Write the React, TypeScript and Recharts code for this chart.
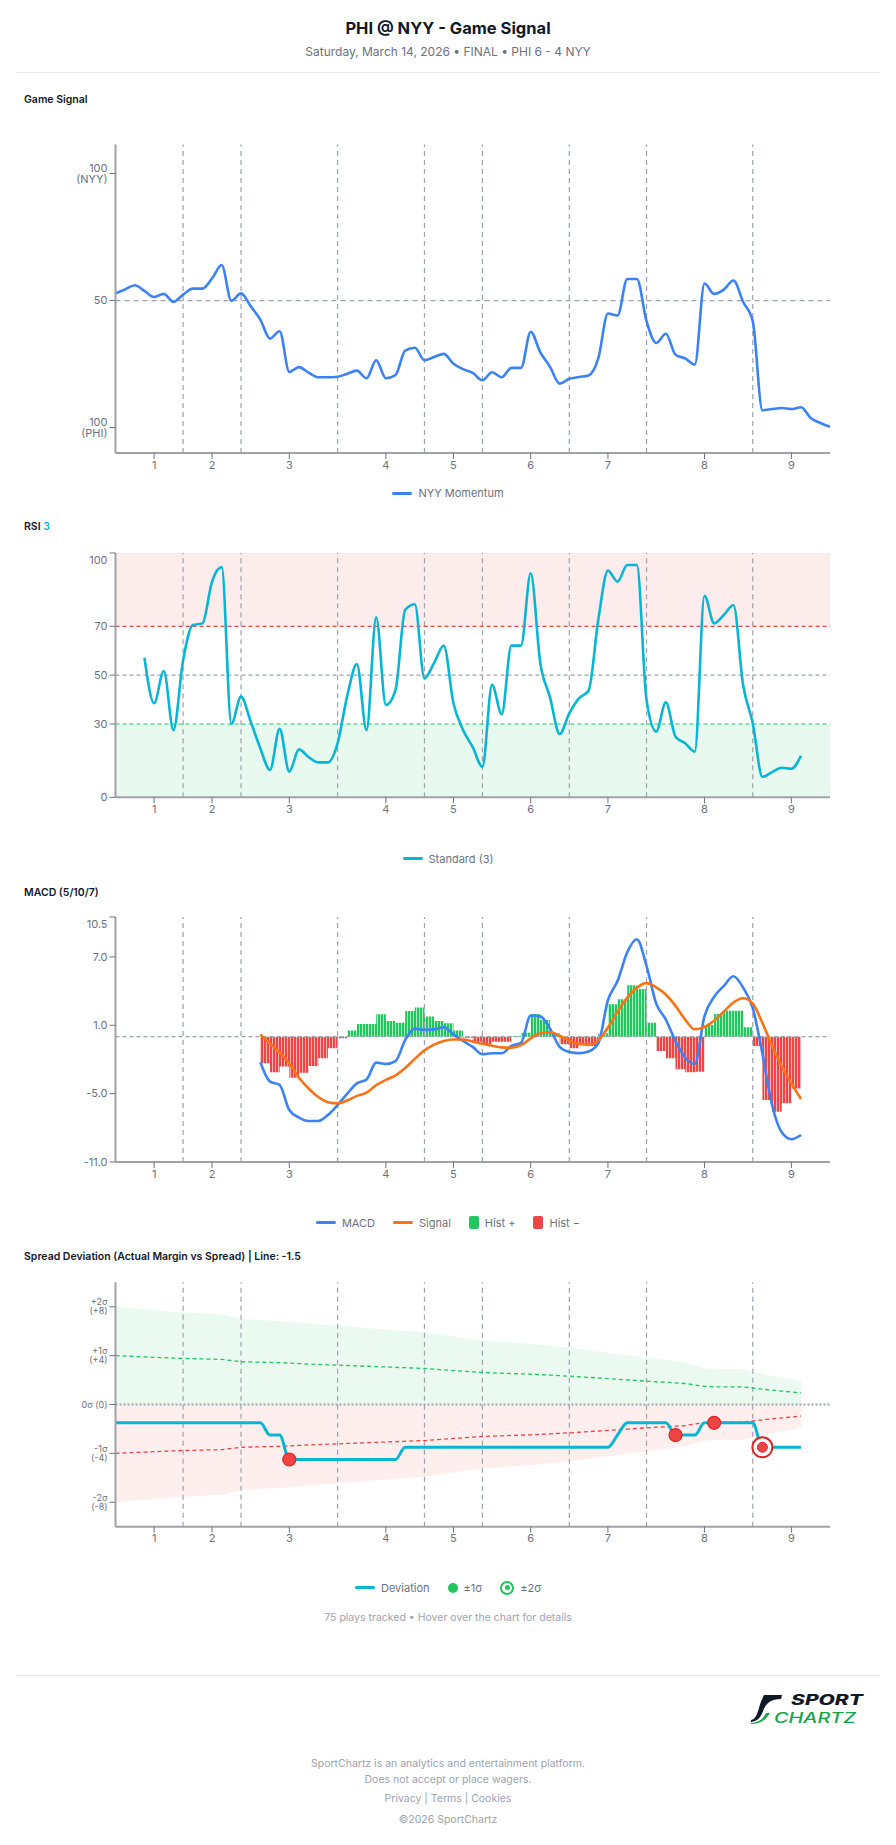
import React from 'react'
import {
  ComposedChart,
  Line,
  Area,
  XAxis,
  YAxis,
  ReferenceLine,
  ReferenceArea,
} from 'recharts'

// x axis = play number (75 plays tracked, 0..74)
const INNING_LABELS = ['1', '2', '3', '4', '5', '6', '7', '8', '9']
const INNING_TICKS = [4, 10, 18, 28, 35, 43, 51, 61, 70]
const INNING_BREAKS = [7, 13, 23, 32, 38, 47, 55, 66]

// Game signal: 0 = PHI 100, 50 = even, 100 = NYY 100
const MOMENTUM = [
  52.8, 54.4, 56.0, 53.8, 51.4, 52.6, 49.5, 52.3, 54.7, 54.7,
  58.7, 64.0, 49.9, 52.8, 47.8, 42.5, 35.0, 37.9, 21.9, 23.8,
  21.6, 19.8, 19.8, 20.0, 21.2, 22.4, 19.4, 26.5, 19.4, 20.7,
  30.3, 31.4, 26.5, 27.8, 29.0, 25.1, 23.0, 21.5, 18.6, 21.8,
  19.8, 23.5, 23.5, 37.7, 29.6, 23.9, 17.3, 19.2, 19.9, 20.5,
  27.2, 44.9, 44.1, 58.5, 58.5, 41.9, 33.3, 36.9, 28.7, 27.2,
  24.8, 56.7, 52.6, 54.3, 57.9, 49.5, 41.9, 6.8, 7.3, 7.7,
  7.3, 8.0, 3.8, 1.8, 0.3,
]

// RSI(3), plays 3..71
const RSI_FROM = 3
const RSI = [
  57.1, 38.5, 51.7, 27.5, 56.0, 70.5, 71.2, 88.3, 94.2, 30.0,
  41.2, 31.0, 20.0, 11.2, 28.0, 10.5, 19.6, 16.5, 14.3, 14.3,
  22.1, 41.5, 54.5, 27.5, 73.7, 37.8, 43.9, 76.7, 79.0, 48.7,
  55.0, 62.1, 38.5, 27.5, 20.5, 12.5, 46.0, 34.0, 62.1, 62.1,
  91.7, 54.8, 41.0, 25.9, 34.4, 40.5, 43.7, 72.6, 92.8, 88.3,
  95.1, 95.1, 39.8, 26.9, 38.9, 24.8, 22.1, 18.7, 82.5, 71.2,
  74.6, 78.7, 46.0, 30.3, 8.4, 10.3, 12.1, 11.7, 17.0,
]

// MACD (5/10/7), plays 15..71
const MACD_FROM = 15
const MACD = [
  -2.25, -3.95, -4.24, -6.44, -7.1, -7.4, -7.4, -6.88, -6.0, -5.0,
  -4.1, -3.75, -2.28, -2.4, -2.15, -0.3, 0.7, 0.6, 0.64, 0.82,
  0.2, -0.38, -0.9, -1.55, -1.46, -1.46, -0.82, -0.55, 1.85, 1.78,
  0.7, -0.9, -1.35, -1.45, -1.3, -0.59, 3.2, 4.9, 7.4, 8.55,
  6.2, 2.9, 1.5, -0.4, -1.85, -2.4, 1.8, 3.5, 4.45, 5.3,
  4.3, 2.5, -1.5, -6.0, -8.4, -9.0, -8.63,
]
const MACD_SIGNAL = [
  0.2, -0.6, -1.4, -2.35, -3.6, -4.55, -5.3, -5.75, -5.85, -5.6,
  -5.2, -4.92, -4.25, -3.8, -3.4, -2.75, -1.95, -1.2, -0.7, -0.38,
  -0.25, -0.25, -0.42, -0.62, -0.8, -0.94, -0.97, -0.75, -0.15, 0.29,
  0.38, 0.08, -0.35, -0.65, -0.72, -0.35, 0.8, 2.2, 3.4, 4.3,
  4.7, 4.33, 3.7, 2.7, 1.5, 0.65, 0.85, 1.4, 2.2, 3.0,
  3.37, 2.9, 1.2, -0.8, -2.6, -4.1, -5.47,
]
const MACD_HIST = [
  -2.34, -3.13, -2.63, -3.6, -3.16, -2.58, -1.9, -1.02, -0.15, 0.53,
  1.11, 1.11, 1.96, 1.38, 1.23, 2.25, 2.55, 1.76, 1.38, 1.17,
  0.53, -0.09, -0.44, -0.67, -0.44, -0.44, 0.06, 0.35, 1.99, 1.46,
  0.3, -0.67, -1.02, -0.73, -0.82, 0.29, 2.84, 3.28, 4.5, 4.18,
  1.23, -1.26, -1.9, -2.87, -3.13, -3.07, 1.02, 1.99, 2.28, 2.28,
  0.82, -0.82, -5.56, -6.58, -5.85, -4.54, -2.98,
]

// Spread deviation (points vs the -1.5 line), plays 0..71
const DEVIATION = [
  -1.5, -1.5, -1.5, -1.5, -1.5, -1.5, -1.5, -1.5, -1.5, -1.5,
  -1.5, -1.5, -1.5, -1.5, -1.5, -1.5, -2.5, -2.5, -4.5, -4.5,
  -4.5, -4.5, -4.5, -4.5, -4.5, -4.5, -4.5, -4.5, -4.5, -4.5,
  -3.5, -3.5, -3.5, -3.5, -3.5, -3.5, -3.5, -3.5, -3.5, -3.5,
  -3.5, -3.5, -3.5, -3.5, -3.5, -3.5, -3.5, -3.5, -3.5, -3.5,
  -3.5, -3.5, -2.5, -1.5, -1.5, -1.5, -1.5, -1.5, -2.5, -2.5,
  -2.5, -1.5, -1.5, -1.5, -1.5, -1.5, -1.5, -3.5, -3.5, -3.5,
  -3.5, -3.5,
]
// one standard deviation (points) remaining at each play
const SIGMA = [
  4.0, 3.96, 3.93, 3.9, 3.86, 3.83, 3.8, 3.77, 3.75, 3.73,
  3.71, 3.69, 3.6, 3.5, 3.48, 3.46, 3.44, 3.42, 3.39, 3.35,
  3.31, 3.28, 3.25, 3.22, 3.19, 3.16, 3.13, 3.1, 3.07, 3.04,
  3.01, 2.98, 2.95, 2.9, 2.84, 2.78, 2.72, 2.67, 2.62, 2.59,
  2.56, 2.53, 2.51, 2.48, 2.44, 2.4, 2.36, 2.32, 2.27, 2.22,
  2.17, 2.12, 2.07, 2.02, 1.96, 1.91, 1.86, 1.82, 1.77, 1.72,
  1.6, 1.48, 1.45, 1.45, 1.45, 1.44, 1.35, 1.25, 1.17, 1.1,
  1.02, 0.95,
]
const ALERT_PLAYS = [18, 58, 62, 67]
const ALERT_TIERS = [1, 1, 1, 2]

const SPREAD_TICKS = [8, 4, 0, -4, -8]
const SPREAD_TICK_LABELS = [['+2σ', '(+8)'], ['+1σ', '(+4)'], ['0σ (0)'], ['-1σ', '(-4)'], ['-2σ', '(-8)']]
const SIGNAL_TICKS = [100, 50, 0]
const SIGNAL_TICK_LABELS = [['100', '(NYY)'], ['50'], ['100', '(PHI)']]
const RSI_TICKS = [0, 30, 50, 70, 100]
const MACD_TICKS = [-11, -5, 1, 7, 10.5]

const rows = MOMENTUM.map((m, i) => {
  const k = i - MACD_FROM
  const h = MACD_HIST[k]
  const s = SIGMA[i]
  return {
    play: i,
    momentum: m,
    rsi: RSI[i - RSI_FROM] ?? null,
    macd: MACD[k] ?? null,
    signal: MACD_SIGNAL[k] ?? null,
    histPos: h == null ? null : Math.max(h, 0),
    histNeg: h == null ? null : Math.min(h, 0),
    dev: DEVIATION[i] ?? null,
    up1: s == null ? null : s,
    lo1: s == null ? null : -s,
    up2: s == null ? null : 2 * s,
    lo2: s == null ? null : -2 * s,
  }
})

const W = 896
const PLOT_LEFT = 115.5
const PLOT_RIGHT = 830
const AXIS_W = 60
const GRID = '#9ca3af'
const TICK = '#6b7280'

const chartMargin = (top: number) => ({ top, right: W - PLOT_RIGHT, bottom: 0, left: PLOT_LEFT - AXIS_W })

const xAxisProps = {
  dataKey: 'play',
  type: 'number' as const,
  domain: [0, 74],
  ticks: INNING_TICKS,
  interval: 0 as const,
  tickFormatter: (v: number) => INNING_LABELS[INNING_TICKS.indexOf(v)] ?? '',
  height: 30,
  axisLine: { stroke: '#a1a1aa', strokeWidth: 2 },
  tickLine: { stroke: TICK },
  tick: { fontSize: 11, fill: TICK },
}

const yAxisBase = {
  width: AXIS_W,
  interval: 0 as const,
  axisLine: { stroke: '#a1a1aa', strokeWidth: 2 },
  tickLine: { stroke: TICK },
}

const inningLines = INNING_BREAKS.map((b) => (
  <ReferenceLine key={`inn-${b}`} x={b} stroke={GRID} strokeDasharray="5 4" strokeWidth={1.2} />
))

// two-line y tick labels, e.g. "100" over "(NYY)"
function stackTick(values: number[], labels: string[][], fontSize: number, lineGap: number) {
  return (p: any) => {
    const lines = labels[values.indexOf(p.payload.value)] ?? [String(p.payload.value)]
    const start = -((lines.length - 1) * lineGap) / 2
    return (
      <text key={`t-${p.payload.value}`} x={p.x} y={p.y} textAnchor="end" fill={TICK} fontSize={fontSize}>
        {lines.map((l, i) => (
          <tspan key={i} x={p.x} y={p.y + start + i * lineGap} dy="0.35em">
            {l}
          </tspan>
        ))}
      </text>
    )
  }
}

// the label of the top tick sits a little below the plot edge
function edgeTick(top: number, fmt: (v: number) => string) {
  return (p: any) => (
    <text
      key={`t-${p.payload.value}`}
      x={p.x}
      y={p.y + (p.payload.value === top ? 7.5 : 0)}
      dy="0.35em"
      textAnchor="end"
      fill={TICK}
      fontSize={11}
    >
      {fmt(p.payload.value)}
    </text>
  )
}

const renderAlert = (p: any) => {
  const idx = ALERT_PLAYS.indexOf(p.payload?.play)
  if (idx < 0 || p.cx == null) return <g key={`a-${p.index}`} />
  if (ALERT_TIERS[idx] === 2) {
    return (
      <g key={`a-${p.index}`}>
        <circle cx={p.cx} cy={p.cy} r={10} fill="#fff" stroke="#dc2626" strokeWidth={2} />
        <circle cx={p.cx} cy={p.cy} r={5} fill="#ef4444" stroke="#dc2626" strokeWidth={1} />
      </g>
    )
  }
  return <circle key={`a-${p.index}`} cx={p.cx} cy={p.cy} r={6.5} fill="#ef4444" stroke="#dc2626" strokeWidth={1.2} />
}

type LegendItem = { label: string; kind: 'line' | 'square' | 'dot' | 'ring'; color: string }

function LegendRow({ top, items }: { top: number; items: LegendItem[] }) {
  return (
    <div
      style={{
        position: 'absolute',
        top: top - 8,
        left: 0,
        width: W,
        height: 16,
        display: 'flex',
        justifyContent: 'center',
        alignItems: 'center',
        gap: 18,
        fontSize: 11,
        color: TICK,
      }}
    >
      {items.map((it) => (
        <div key={it.label} style={{ display: 'flex', alignItems: 'center', gap: 6 }}>
          {it.kind === 'line' && <span style={{ width: 20, height: 3, borderRadius: 2, background: it.color }} />}
          {it.kind === 'square' && <span style={{ width: 10, height: 13, borderRadius: 2, background: it.color }} />}
          {it.kind === 'dot' && <span style={{ width: 10, height: 10, borderRadius: 5, background: it.color }} />}
          {it.kind === 'ring' && (
            <span
              style={{
                width: 10,
                height: 10,
                borderRadius: 7,
                border: `2px solid ${it.color}`,
                display: 'flex',
                alignItems: 'center',
                justifyContent: 'center',
              }}
            >
              <span style={{ width: 5, height: 5, borderRadius: 3, background: it.color }} />
            </span>
          )}
          <span>{it.label}</span>
        </div>
      ))}
    </div>
  )
}

function SectionLabel({ top, children }: { top: number; children: React.ReactNode }) {
  return (
    <div style={{ position: 'absolute', top: top - 8, left: 24, fontSize: 10.5, fontWeight: 600, color: '#111827', lineHeight: '16px' }}>
      {children}
    </div>
  )
}

const abs = (top: number): React.CSSProperties => ({ position: 'absolute', top, left: 0 })

const footLine = (top: number): React.CSSProperties => ({
  position: 'absolute',
  top,
  left: 0,
  width: W,
  textAlign: 'center',
  fontSize: 10.5,
  color: '#9ca3af',
  lineHeight: '16px',
})

export default function App() {
  return (
    <div style={{ position: 'relative', width: W, height: 1845, fontFamily: 'Inter, "Noto Sans", sans-serif', background: '#fff' }}>
      <style>{'body{margin:0}'}</style>

      <div style={{ position: 'absolute', top: 16, left: 0, width: W, textAlign: 'center', fontSize: 16.5, fontWeight: 700, color: '#111827', lineHeight: '24px' }}>
        PHI @ NYY - Game Signal
      </div>
      <div style={{ position: 'absolute', top: 43, left: 0, width: W, textAlign: 'center', fontSize: 12, color: TICK, lineHeight: '18px' }}>
        Saturday, March 14, 2026 • FINAL • PHI 6 - 4 NYY
      </div>
      <div style={{ position: 'absolute', top: 72, left: 16, width: 864, height: 1, background: '#e5e7eb' }} />

      {/* Game signal */}
      <SectionLabel top={100}>Game Signal</SectionLabel>
      <div style={abs(130)}>
        <ComposedChart width={W} height={353} data={rows} margin={chartMargin(14.5)}>
          <XAxis {...xAxisProps} />
          <YAxis
            {...yAxisBase}
            domain={[-10, 111.4]}
            ticks={SIGNAL_TICKS}
            tick={stackTick(SIGNAL_TICKS, SIGNAL_TICK_LABELS, 11, 11.5)}
          />
          {inningLines}
          <ReferenceLine y={50} stroke={GRID} strokeDasharray="5 4" strokeWidth={1.2} />
          <Line type="monotone" dataKey="momentum" stroke="#3b82f6" strokeWidth={2.6} dot={false} isAnimationActive={false} />
        </ComposedChart>
      </div>
      <LegendRow top={493} items={[{ label: 'NYY Momentum', kind: 'line', color: '#3b82f6' }]} />

      {/* RSI */}
      <SectionLabel top={527}>
        RSI <span style={{ color: '#06b6d4' }}>3</span>
      </SectionLabel>
      <div style={abs(540)}>
        <ComposedChart width={W} height={287.3} data={rows} margin={chartMargin(13)}>
          <XAxis {...xAxisProps} />
          <YAxis {...yAxisBase} domain={[0, 100]} ticks={RSI_TICKS} tick={edgeTick(100, (v) => String(v))} />
          <ReferenceArea y1={70} y2={100} fill="#ef4444" fillOpacity={0.1} stroke="none" />
          <ReferenceArea y1={0} y2={30} fill="#22c55e" fillOpacity={0.1} stroke="none" />
          {inningLines}
          <ReferenceLine y={70} stroke="#ef4444" strokeDasharray="4 3" strokeWidth={1.2} />
          <ReferenceLine y={50} stroke={GRID} strokeDasharray="4 3" strokeWidth={1.2} />
          <ReferenceLine y={30} stroke="#22c55e" strokeDasharray="4 3" strokeWidth={1.2} />
          <Line type="monotone" dataKey="rsi" stroke="#06b6d4" strokeWidth={2.6} dot={false} isAnimationActive={false} />
        </ComposedChart>
      </div>
      <LegendRow top={858.7} items={[{ label: 'Standard (3)', kind: 'line', color: '#06b6d4' }]} />

      {/* MACD */}
      <SectionLabel top={892.7}>MACD (5/10/7)</SectionLabel>
      <div style={abs(905)}>
        <ComposedChart width={W} height={287} data={rows} margin={chartMargin(12)}>
          <defs>
            <pattern id="histGreen" width="3" height="6" patternUnits="userSpaceOnUse">
              <rect width="3" height="6" fill="#a7f3c0" />
              <rect width="2" height="6" fill="#22c55e" />
            </pattern>
            <pattern id="histRed" width="3" height="6" patternUnits="userSpaceOnUse">
              <rect width="3" height="6" fill="#fcb4b4" />
              <rect width="2" height="6" fill="#ef4444" />
            </pattern>
          </defs>
          <XAxis {...xAxisProps} />
          <YAxis {...yAxisBase} domain={[-11, 10.5]} ticks={MACD_TICKS} tick={edgeTick(10.5, (v) => v.toFixed(1))} />
          {inningLines}
          <ReferenceLine y={0} stroke={GRID} strokeDasharray="4 3" strokeWidth={1.2} />
          <Area type="stepAfter" dataKey="histPos" baseValue={0} stroke="none" fill="url(#histGreen)" fillOpacity={1} isAnimationActive={false} />
          <Area type="stepAfter" dataKey="histNeg" baseValue={0} stroke="none" fill="url(#histRed)" fillOpacity={1} isAnimationActive={false} />
          <Line type="monotone" dataKey="macd" stroke="#3b82f6" strokeWidth={2.6} dot={false} isAnimationActive={false} />
          <Line type="monotone" dataKey="signal" stroke="#f97316" strokeWidth={2.6} dot={false} isAnimationActive={false} />
        </ComposedChart>
      </div>
      <LegendRow
        top={1222.7}
        items={[
          { label: 'MACD', kind: 'line', color: '#3b82f6' },
          { label: 'Signal', kind: 'line', color: '#f97316' },
          { label: 'Hist +', kind: 'square', color: '#22c55e' },
          { label: 'Hist −', kind: 'square', color: '#ef4444' },
        ]}
      />

      {/* Spread deviation */}
      <SectionLabel top={1257.3}>Spread Deviation (Actual Margin vs Spread) | Line: -1.5</SectionLabel>
      <div style={abs(1270)}>
        <ComposedChart width={W} height={286.7} data={rows} margin={chartMargin(12.3)}>
          <XAxis {...xAxisProps} />
          <YAxis
            {...yAxisBase}
            domain={[-10, 10]}
            ticks={SPREAD_TICKS}
            tick={stackTick(SPREAD_TICKS, SPREAD_TICK_LABELS, 9, 9)}
          />
          <Area type="linear" dataKey="up2" baseValue={0} stroke="none" fill="#22c55e" fillOpacity={0.09} isAnimationActive={false} />
          <Area type="linear" dataKey="lo2" baseValue={0} stroke="none" fill="#ef4444" fillOpacity={0.09} isAnimationActive={false} />
          {inningLines}
          <ReferenceLine y={0} stroke={GRID} strokeDasharray="2 2" strokeWidth={2} />
          <Line type="linear" dataKey="up1" stroke="#22c55e" strokeDasharray="4 3" strokeWidth={1.3} dot={false} isAnimationActive={false} />
          <Line type="linear" dataKey="lo1" stroke="#ef4444" strokeDasharray="4 3" strokeWidth={1.3} dot={false} isAnimationActive={false} />
          <Line type="monotone" dataKey="dev" stroke="#06b6d4" strokeWidth={3} dot={renderAlert} activeDot={false} isAnimationActive={false} />
        </ComposedChart>
      </div>
      <LegendRow
        top={1587.7}
        items={[
          { label: 'Deviation', kind: 'line', color: '#06b6d4' },
          { label: '±1σ', kind: 'dot', color: '#22c55e' },
          { label: '±2σ', kind: 'ring', color: '#22c55e' },
        ]}
      />
      <div style={footLine(1610)}>75 plays tracked • Hover over the chart for details</div>

      {/* footer */}
      <div style={{ position: 'absolute', top: 1675, left: 16, width: 864, height: 1, background: '#e5e7eb' }} />
      <svg style={{ position: 'absolute', top: 1692, left: 748 }} width={120} height={34}>
        <path d="M16 3 L34 3 L33 7 C23 7 18 11 15 19 C13 25 10 29 3 30 L3 28 C8 27 9 22 11 16 C13 9 15 5 16 3 Z" fill="#111827" />
        <path d="M3 31 C12 30 15 27 18 21 L22 21 C18 28 12 32 3 32 Z" fill="#16a34a" />
        <text x={43} y={13} fontSize={14} fontWeight={800} fontStyle="italic" fill="#111827" textLength={72} lengthAdjust="spacingAndGlyphs">
          SPORT
        </text>
        <text x={26} y={30.5} fontSize={14} fontWeight={500} fontStyle="italic" fill="#16a34a" textLength={82} lengthAdjust="spacingAndGlyphs">
          CHARTZ
        </text>
      </svg>
      <div style={footLine(1756)}>SportChartz is an analytics and entertainment platform.</div>
      <div style={footLine(1772)}>Does not accept or place wagers.</div>
      <div style={footLine(1791)}>Privacy | Terms | Cookies</div>
      <div style={footLine(1812)}>©2026 SportChartz</div>
    </div>
  )
}
